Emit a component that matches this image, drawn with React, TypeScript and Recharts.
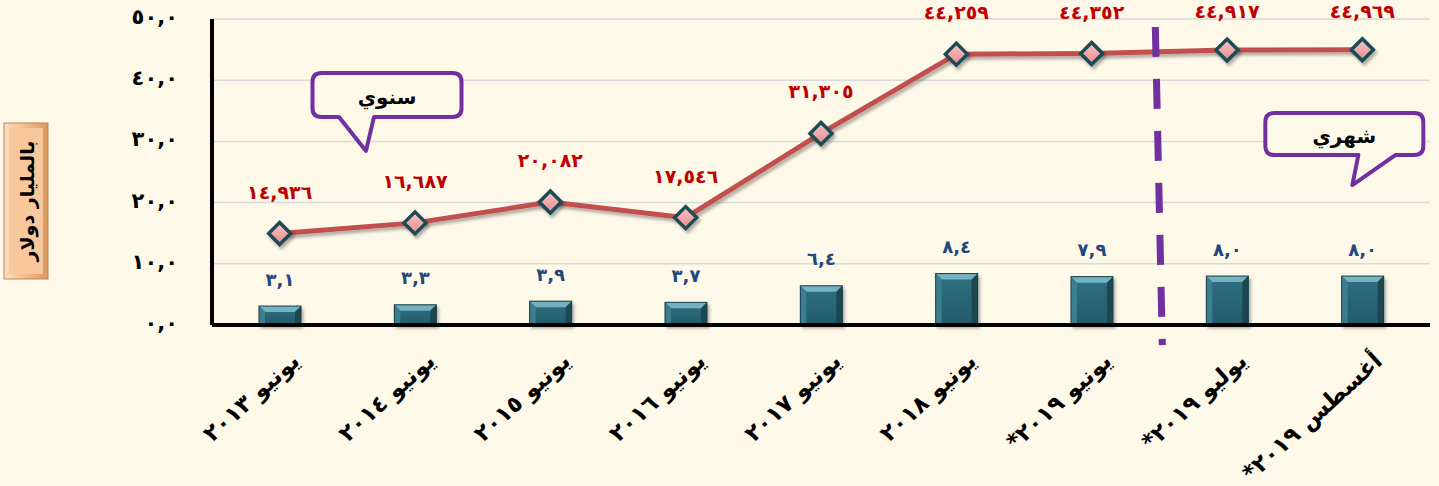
import { ComposedChart, Line, Bar, XAxis, YAxis, CartesianGrid, LabelList, ReferenceLine, ReferenceDot } from 'recharts';

const categories = ['يونيو ٢٠١٣', 'يونيو ٢٠١٤', 'يونيو ٢٠١٥', 'يونيو ٢٠١٦', 'يونيو ٢٠١٧', 'يونيو ٢٠١٨', 'يونيو ٢٠١٩*', 'يوليو ٢٠١٩*', 'أغسطس ٢٠١٩*'];
const lineValues = [14.936, 16.687, 20.082, 17.546, 31.305, 44.259, 44.352, 44.917, 44.969];
const barValues = [3.1, 3.3, 3.9, 3.7, 6.4, 8.4, 7.9, 8.0, 8.0];
const yTicks = [0, 10, 20, 30, 40, 50];

const data = categories.map((name, i) => ({ name, total: lineValues[i], monthly: barValues[i] }));

const BG = '#FEF8E9';
const FONT = "'DejaVu Sans', sans-serif";
const AR_DIGITS = '٠١٢٣٤٥٦٧٨٩';

function toAr(v: number, digits: number) {
  return v.toFixed(digits).replace('.', ',').replace(/\d/g, d => AR_DIGITS[+d]);
}

function YTick({ x, y, payload }: any) {
  return (
    <text x={x} y={y} dy={5} textAnchor="end" fontFamily={FONT} fontWeight="bold" fontSize={21} fill="#000">
      {toAr(payload.value, 1)}
    </text>
  );
}

function XTick({ x, y, payload }: any) {
  return (
    <g transform={`translate(${x + 16},${y + 24}) rotate(-42)`}>
      <text x={0} y={0} dy={8} textAnchor="end" fontFamily={FONT} fontWeight="bold" fontSize={23} fill="#000">
        {payload.value + '\u200F'}
      </text>
    </g>
  );
}

function Diamond({ cx, cy }: any) {
  const r = 11;
  return (
    <path
      d={`M${cx},${cy - r} L${cx + r},${cy} L${cx},${cy + r} L${cx - r},${cy} Z`}
      fill="url(#diamondFill)"
      stroke="#1E4C58"
      strokeWidth={3.5}
      filter="url(#softShadow)"
    />
  );
}

function BarShape({ x, y, width, height }: any) {
  if (!height || height <= 0) return null;
  const b = Math.min(6, height / 2);
  return (
    <g filter="url(#softShadow)">
      <rect x={x} y={y} width={width} height={height} fill="url(#barBody)" />
      <polygon points={`${x},${y} ${x + width},${y} ${x + width - b},${y + b} ${x + b},${y + b}`} fill="#74B2C0" />
      <polygon points={`${x},${y} ${x + b},${y + b} ${x + b},${y + height} ${x},${y + height}`} fill="#3B7F8F" />
      <polygon points={`${x + width},${y} ${x + width - b},${y + b} ${x + width - b},${y + height} ${x + width},${y + height}`} fill="#1B4751" />
      <rect x={x} y={y} width={width} height={height} fill="none" stroke="#163E48" strokeWidth={1} />
    </g>
  );
}

function LineLabel({ x, y, value }: any) {
  return (
    <text x={x} y={Math.max(y - 42, 11)} dominantBaseline="central" textAnchor="middle" fontFamily={FONT} fontWeight="bold" fontSize={19} fill="#C00000">
      {toAr(value, 3)}
    </text>
  );
}

function BarLabel({ x, y, width, value }: any) {
  return (
    <text x={x + width / 2} y={y - 27} dominantBaseline="central" textAnchor="middle" fontFamily={FONT} fontWeight="bold" fontSize={18} fill="#1F497D">
      {toAr(value, 1)}
    </text>
  );
}

// speech bubble; dx shifts it from the category centre it is attached to
function Callout({ cx, cy, dx, w, h, text, tail }: any) {
  const c = cx + dx;
  const l = c - w / 2, t = cy - h / 2, r = c + w / 2, bt = cy + h / 2, rad = 9;
  const [a, b2, tx, ty] = tail;
  const d = `M${l + rad},${t} L${r - rad},${t} Q${r},${t} ${r},${t + rad} L${r},${bt - rad} Q${r},${bt} ${r - rad},${bt}
    L${c + b2},${bt} L${c + tx},${cy + ty} L${c + a},${bt}
    L${l + rad},${bt} Q${l},${bt} ${l},${bt - rad} L${l},${t + rad} Q${l},${t} ${l + rad},${t} Z`;
  return (
    <g>
      <path d={d} fill={BG} stroke="#7030A0" strokeWidth={4} strokeLinejoin="round" />
      <text x={c} y={cy + 2} dominantBaseline="central" textAnchor="middle" fontFamily={FONT} fontWeight="bold" fontSize={20} fill="#000">
        {text}
      </text>
    </g>
  );
}

function DashedDivider(p: any) {
  return (
    <line
      x1={p.x1 - 4}
      y1={p.y1}
      x2={p.x2 + 3}
      y2={p.y2}
      stroke="#7030A0"
      strokeWidth={7}
      strokeDasharray="30 22"
    />
  );
}

function YTitle() {
  return (
    <g>
      <rect x={4} y={123} width={44} height={156} fill="url(#titleEdge)" stroke="#B98656" strokeWidth={1} />
      <rect x={9} y={128} width={34} height={146} fill="#F8C89C" />
      <text transform="translate(27,201) rotate(-90)" dominantBaseline="central" textAnchor="middle" fontFamily={FONT} fontWeight="bold" fontSize={19} fill="#000">
        بالمليار دولار
      </text>
    </g>
  );
}

export default function App() {
  return (
    <div style={{ position: 'absolute', left: 0, top: 0, width: 1439, height: 486, background: BG, overflow: 'hidden' }}>
      <ComposedChart width={1439} height={486} data={data} margin={{ top: 19, right: 9, left: 132, bottom: 21 }}>
        <defs>
          <linearGradient id="barBody" x1="0" y1="0" x2="0" y2="1">
            <stop offset="0%" stopColor="#2F7282" />
            <stop offset="100%" stopColor="#22596A" />
          </linearGradient>
          <linearGradient id="diamondFill" x1="0" y1="0" x2="0" y2="1">
            <stop offset="0%" stopColor="#FAC6C6" />
            <stop offset="100%" stopColor="#E58C8C" />
          </linearGradient>
          <linearGradient id="titleEdge" x1="0" y1="0" x2="1" y2="0">
            <stop offset="0%" stopColor="#FCDDBE" />
            <stop offset="50%" stopColor="#F3BC88" />
            <stop offset="100%" stopColor="#D9995E" />
          </linearGradient>
          <filter id="softShadow" x="-30%" y="-30%" width="160%" height="160%">
            <feDropShadow dx={2} dy={3} stdDeviation={1.6} floodColor="#000" floodOpacity={0.3} />
          </filter>
        </defs>
        <CartesianGrid vertical={false} stroke="#D9D9D9" strokeWidth={1.5} />
        <XAxis
          dataKey="name"
          interval={0}
          height={140}
          tickLine={false}
          axisLine={{ stroke: '#000', strokeWidth: 4 }}
          tick={<XTick />}
        />
        <YAxis
          domain={[0, 50]}
          ticks={yTicks}
          width={80}
          tickLine={false}
          tickMargin={28}
          axisLine={{ stroke: '#000', strokeWidth: 4 }}
          tick={<YTick />}
          label={{ content: () => <YTitle /> }}
        />
        <Bar dataKey="monthly" barSize={42} shape={<BarShape />} isAnimationActive={false}>
          <LabelList dataKey="monthly" content={<BarLabel />} />
        </Bar>
        <Line
          dataKey="total"
          stroke="#C0504D"
          strokeWidth={5}
          dot={<Diamond />}
          activeDot={false}
          filter="url(#softShadow)"
          isAnimationActive={false}
        >
          <LabelList dataKey="total" content={<LineLabel />} />
        </Line>
        <ReferenceLine
          segment={[{ x: categories[6], y: 48.7 }, { x: categories[6], y: -3.3 }]}
          position="end"
          ifOverflow="visible"
          shape={<DashedDivider />}
        />
        <ReferenceDot
          x={categories[1]}
          y={37.6}
          ifOverflow="visible"
          shape={(p: any) => <Callout cx={p.cx} cy={p.cy} dx={-28} w={149} h={44} text="سنوي" tail={[-48, -13, -21, 56]} />}
        />
        <ReferenceDot
          x={categories[8]}
          y={31.2}
          ifOverflow="visible"
          shape={(p: any) => <Callout cx={p.cx} cy={p.cy} dx={-18} w={158} h={42} text="شهري" tail={[14, 51, 8, 51]} />}
        />
      </ComposedChart>
    </div>
  );
}
